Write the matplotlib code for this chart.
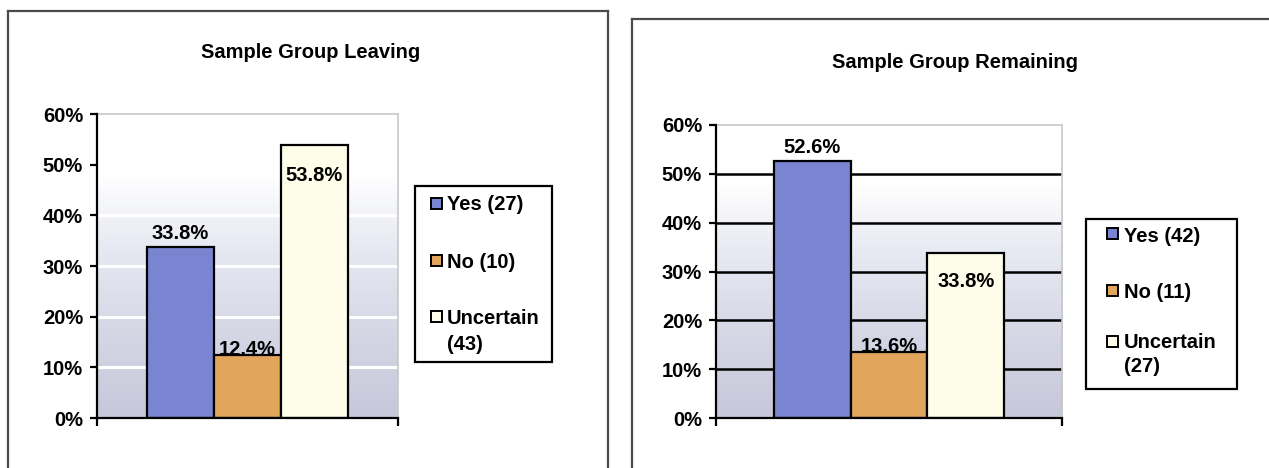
import numpy as np
import matplotlib
matplotlib.use("Agg")
import matplotlib.pyplot as plt
from matplotlib.colors import LinearSegmentedColormap
from matplotlib.lines import Line2D
from matplotlib.patches import Rectangle

plt.rcParams['font.family'] = ['Liberation Sans', 'DejaVu Sans']
plt.rcParams['font.weight'] = 'bold'

# ---- data -------------------------------------------------------------
answers = ["Yes", "No", "Uncertain"]
leaving_pct = [33.8, 12.4, 53.8]
leaving_n = [27, 10, 43]
remaining_pct = [52.6, 13.6, 33.8]
remaining_n = [42, 11, 27]
y_ticks = [0, 10, 20, 30, 40, 50, 60]
titles = ["Sample Group Leaving", "Sample Group Remaining"]

bar_colors = ["#7a85d2", "#e2a55c", "#fdfdea"]
FS = 14.5

W, H = 1269, 468
fig = plt.figure(figsize=(W / 100, H / 100), dpi=100)
fig.patch.set_facecolor("white")


def fy(y):
    """Figure fraction for a pixel row measured from the top."""
    return 1 - y / H


def px_axes(x0, x1, y_bottom, y_top):
    return fig.add_axes([x0 / W, (H - y_bottom) / H, (x1 - x0) / W, (y_bottom - y_top) / H])


def frame(x_left, y_top, x_right=None):
    kw = dict(color="#4a4a4a", lw=1.6, transform=None, zorder=10)
    t = lambda xs, ys: fig.add_artist(Line2D(xs, [H - y for y in ys], **kw))
    t([x_left, x_left], [y_top, H])
    if x_right is None:
        t([x_left, W], [y_top, y_top])
    else:
        t([x_left, x_right], [y_top, y_top])
        t([x_right, x_right], [y_top, H])


def legend_box(box, rows, marker_x, text_x, line_gap, counts):
    x0, y0, x1, y1 = box
    fig.add_artist(Rectangle((x0 / W, fy(y1)), (x1 - x0) / W, (y1 - y0) / H,
                             transform=fig.transFigure, facecolor="white",
                             edgecolor="black", lw=1.6, zorder=8))
    msize = 11
    for ans, n, color, yr in zip(answers, counts, bar_colors, rows):
        fig.add_artist(Rectangle((marker_x / W, fy(yr + msize / 2)), msize / W, msize / H,
                                 transform=fig.transFigure, facecolor=color,
                                 edgecolor="black", lw=1.4, zorder=9))
        if ans == "Uncertain":
            fig.text(text_x / W, fy(yr), ans, ha="left", va="center_baseline",
                     fontsize=FS, fontweight="bold", zorder=9)
            fig.text(text_x / W, fy(yr + line_gap), f"({n})", ha="left",
                     va="center_baseline", fontsize=FS, fontweight="bold", zorder=9)
        else:
            fig.text(text_x / W, fy(yr), f"{ans} ({n})", ha="left", va="center_baseline",
                     fontsize=FS, fontweight="bold", zorder=9)


grad = LinearSegmentedColormap.from_list(
    "bg", [(0.0, "#c6c8da"), (0.3, "#d6d8e6"), (0.55, "#e6e8f2"), (0.8, "#ffffff"), (1.0, "#ffffff")])


def panel(ax, pct, title, title_xy, grid_color, label_offsets):
    half = 2.25
    ax.set_xlim(-half, half)
    ax.set_ylim(0, 60)
    ax.imshow(np.linspace(1, 0, 256).reshape(-1, 1), cmap=grad, aspect="auto",
              extent=[-half, half, 0, 60], zorder=0, vmin=0, vmax=1)
    for yv in y_ticks[1:-1]:
        ax.axhline(yv, color=grid_color, lw=1.8 if grid_color == "black" else 2.2, zorder=1)
    xs = np.arange(len(pct)) - 1
    ax.bar(xs, pct, width=1.0, color=bar_colors, edgecolor="black", lw=1.6, zorder=3)
    for x, v, off in zip(xs, pct, label_offsets):
        ax.annotate(f"{v}%", (x, v), xytext=(0, off), textcoords="offset points",
                    ha="center", va="bottom" if off > -6 else "top",
                    fontsize=FS, fontweight="bold", zorder=5)

    ax.set_yticks(y_ticks)
    ax.set_yticklabels([f"{t}%" for t in y_ticks], fontsize=FS, fontweight="bold")
    ax.set_xticks([-half, half])
    ax.set_xticklabels([])
    ax.tick_params(axis="y", direction="out", length=5, width=1.6, pad=5)
    ax.tick_params(axis="x", direction="out", length=6, width=1.6)
    for s in ("left", "bottom"):
        ax.spines[s].set_color("black")
        ax.spines[s].set_linewidth(1.6)
        ax.spines[s].set_zorder(6)
    for s in ("top", "right"):
        ax.spines[s].set_color("#c8c8c8")
        ax.spines[s].set_linewidth(1.2)

    fig.text(title_xy[0] / W, fy(title_xy[1]), title, ha="center", va="center",
             fontsize=FS, fontweight="bold")


frame(8, 11, 608)
frame(632, 19)

ax1 = px_axes(97, 398, 418, 114)
panel(ax1, leaving_pct, titles[0], (311, 52), "white", [3, -3, -15])
legend_box((415, 186, 552, 362), [203, 260, 316], 431, 447, 26, leaving_n)

ax2 = px_axes(716, 1062, 418, 125)
panel(ax2, remaining_pct, titles[1], (955, 62), "black", [3, -3, -14])
legend_box((1086, 219, 1237, 389), [234, 290, 341], 1107, 1124, 24, remaining_n)

fig.savefig("out.png", dpi=100)
